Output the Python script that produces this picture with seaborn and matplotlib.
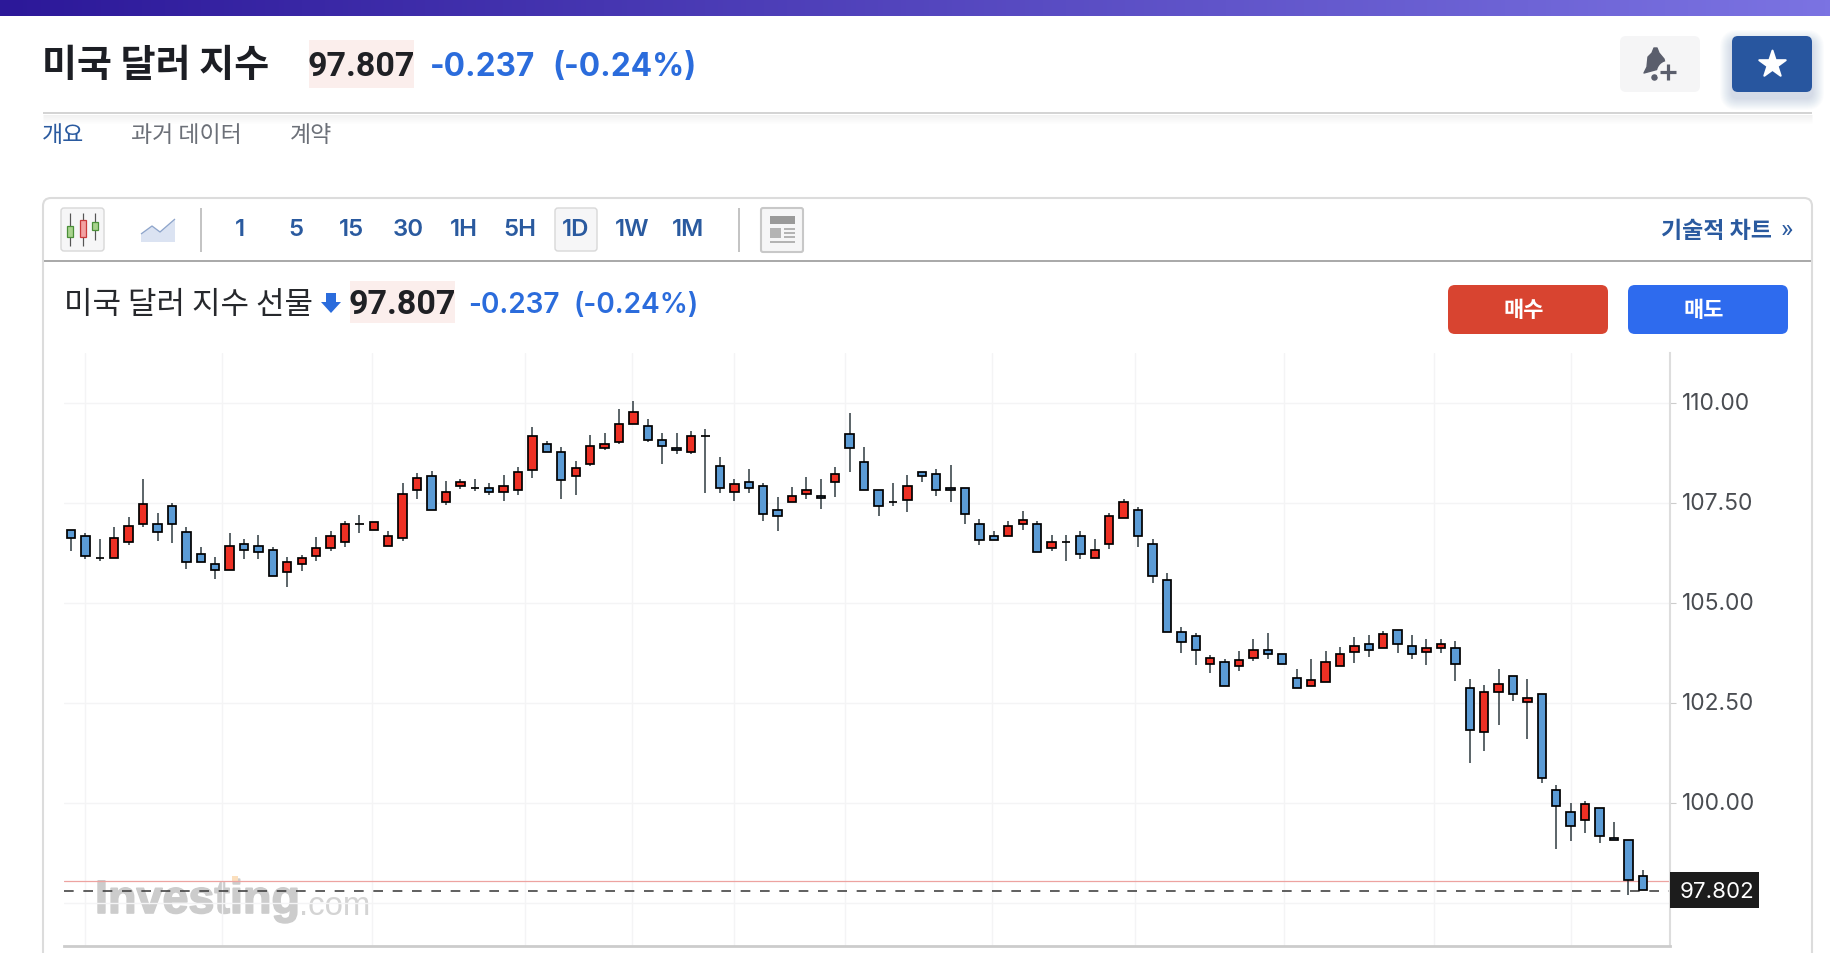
import numpy as np
import pandas as pd
import matplotlib.pyplot as plt
import matplotlib.patheffects as pe
from matplotlib.transforms import ScaledTranslation
import seaborn as sns
from matplotlib.patches import FancyBboxPatch, Rectangle, Polygon

#---------------------------------------------------------
f_out='out.png'
opens=[106.83,106.69,106.13,106.13,106.53,106.98,106.98,107.43,106.78,106.23,
	105.98,105.83,106.48,106.43,106.33,105.78,105.98,106.18,106.38,106.53,
	106.99,106.83,106.43,106.63,107.83,108.18,107.53,107.93,107.88,107.88,
	107.78,107.83,108.33,108.98,108.78,108.18,108.48,108.88,109.03,109.48,
	109.43,109.08,108.88,108.78,109.18,108.43,107.78,108.03,107.93,107.33,
	107.53,107.73,107.68,108.03,109.23,108.53,107.83,107.54,107.58,108.28,
	108.23,107.88,107.88,106.98,106.68,106.68,106.98,106.98,106.38,106.53,
	106.68,106.13,106.48,107.13,107.33,106.48,105.58,104.28,104.18,103.48,
	103.53,103.43,103.63,103.83,103.72,103.12,102.92,103.02,103.42,103.77,
	103.97,103.87,104.32,103.92,103.77,103.87,103.87,102.87,101.77,102.77,
	103.17,102.52,102.72,100.32,99.77,99.57,99.87,99.12,99.07,98.17]
closes=[106.63,106.18,106.13,106.63,106.93,107.48,106.78,106.98,106.03,106.03,
	105.83,106.43,106.33,106.28,105.68,106.03,106.13,106.38,106.68,106.98,
	106.99,107.03,106.68,107.73,108.13,107.33,107.78,108.03,107.88,107.78,
	107.93,108.28,109.18,108.78,108.08,108.38,108.93,108.98,109.48,109.78,
	109.08,108.93,108.83,109.18,109.18,107.88,107.98,107.88,107.23,107.18,
	107.68,107.83,107.63,108.23,108.88,107.83,107.43,107.54,107.93,108.18,
	107.83,107.83,107.23,106.58,106.58,106.93,107.08,106.28,106.53,106.53,
	106.23,106.33,107.18,107.53,106.68,105.68,104.28,104.03,103.83,103.63,
	102.93,103.58,103.83,103.73,103.47,102.87,103.07,103.52,103.72,103.92,
	103.82,104.22,103.97,103.72,103.87,103.97,103.47,101.82,102.77,102.97,
	102.72,102.62,100.62,99.92,99.42,99.97,99.17,99.08,98.07,97.82]
highs=[106.84,106.75,106.60,106.90,107.15,108.11,107.25,107.50,106.90,106.40,
	106.15,106.75,106.60,106.70,106.40,106.15,106.20,106.65,106.80,107.05,
	107.20,107.03,106.80,108.00,108.25,108.30,108.05,108.10,108.10,108.00,
	108.20,108.40,109.40,109.05,108.90,108.55,109.20,109.25,109.85,110.05,
	109.60,109.25,109.25,109.30,109.35,108.65,108.10,108.35,108.00,107.65,
	107.90,108.15,108.10,108.40,109.75,108.90,107.83,108.00,108.20,108.28,
	108.35,108.45,107.88,107.10,106.80,107.05,107.30,107.05,106.70,106.70,
	106.80,106.60,107.25,107.60,107.40,106.60,105.75,104.40,104.25,103.69,
	103.59,103.79,104.10,104.25,103.72,103.34,103.59,103.79,103.89,104.14,
	104.19,104.29,104.32,104.19,104.09,104.09,104.04,103.09,102.94,103.34,
	103.17,103.09,102.72,100.44,99.99,100.04,99.87,99.53,99.07,98.33]
lows=[106.31,106.11,106.06,106.13,106.46,106.91,106.56,106.51,105.86,106.03,
	105.61,105.83,106.11,106.11,105.68,105.41,105.81,106.06,106.31,106.41,
	106.76,106.83,106.43,106.56,107.61,107.33,107.46,107.86,107.81,107.71,
	107.56,107.71,108.12,108.78,107.61,107.71,108.42,108.82,108.97,109.48,
	109.02,108.47,108.72,108.72,107.76,107.76,107.56,107.76,107.06,106.81,
	107.53,107.61,107.36,107.66,108.27,107.83,107.17,107.42,107.27,108.02,
	107.67,107.52,106.97,106.46,106.58,106.68,106.82,106.28,106.31,106.06,
	106.11,106.13,106.36,107.13,106.41,105.51,104.28,103.76,103.46,103.26,
	102.93,103.31,103.56,103.61,103.47,102.87,102.92,103.02,103.42,103.51,
	103.66,103.87,103.76,103.61,103.46,103.76,103.06,101.00,101.30,101.95,
	102.56,101.60,100.50,98.85,99.05,99.25,99.00,99.08,97.70,97.82]
y_ticks=[97.5, 100, 102.5, 105, 107.5, 110]
y_labels=['', '100.00', '102.50', '105.00', '107.50', '110.00']
grid_days=[1, 10.5, 20.9, 31.5, 38.9, 46, 53.7, 63.9, 73.8, 84.1, 94.5, 104]
last_close=97.802
prev_level=98.04
tf_labels=['1', '5', '15', '30', '1H', '5H', '1D', '1W', '1M']

c_up='#ee3024'
c_down='#5b9bd5'
c_navy='#2a5a9f'
c_blue='#2b6cdc'
f_kr='Noto Sans CJK KR'
f_num='Inter'
f_price='Roboto'

#--------------------------------------------------------
sns.set_theme(style='white')
plt.rcParams['font.family']=[f_num, f_kr, 'DejaVu Sans']
W, H=1830, 954
fig=plt.figure(figsize=(W/100, H/100), dpi=100, facecolor='white')

#page furniture is laid out in pixels
ui=fig.add_axes([0, 0, 1, 1])
ui.axis('off')

def box(x0, y0, x1, y1, color, r=5, ec='none', lw=0, z=2, alpha=1):
	ui.add_patch(FancyBboxPatch((x0, y0), x1-x0, y1-y0, boxstyle=f'round,pad=0,rounding_size={r}', fc=color, ec=ec, lw=lw, zorder=z, alpha=alpha))

def shadow(x0, y0, x1, y1, color, r=5):
	for i in range(1, 13):
		box(x0-i, y0-i+6, x1+i, y1+i+6, color, r=r+i, z=1, alpha=0.016)

def txt(x, y, s, px, color, weight='normal', ha='left', family=None, z=5):
	fam=family if family else f_kr
	return ui.text(x, y, s, fontsize=px*0.72, color=color, weight=weight, ha=ha, va='center', family=fam, zorder=z)

def ln(xs, ys, color, lw=1, z=3, **kw):
	ui.plot(xs, ys, color=color, lw=lw*0.72, zorder=z, solid_capstyle='butt', **kw)

#top gradient
grad=np.linspace(0, 1, 400)[None, :, None]
rgb=np.array([0x2c, 0x18, 0x99])/255*(1-grad)+np.array([0x7b, 0x73, 0xe2])/255*grad
ui.imshow(rgb, extent=(0, W, 17, 0), aspect='auto', zorder=1)

#header
txt(42, 66, '미국 달러 지수', 38, '#1c1e24', weight='bold')
ui.add_patch(Rectangle((309, 41), 105, 48, fc='#fbeeec', ec='none', zorder=2))
txt(361, 67, '97.807', 34, '#1f2024', weight='bold', ha='center', family=f_price)
txt(430, 68, '-0.237', 31.5, c_blue, weight='bold', family=f_num)
txt(552, 68, '(-0.24%)', 31.7, c_blue, weight='bold', family=f_num)

#bell and star
box(1620, 37, 1700, 93, '#f5f5f6', r=6)
ui.add_patch(Polygon([(1654, 49), (1657, 49), (1659, 54), (1664, 60), (1666, 68), (1644, 74), (1647, 68), (1648, 58), (1652, 54)], fc='#5a5e6c', ec='#5a5e6c', lw=1, joinstyle='round', zorder=5))
ui.scatter([1668], [73], marker='o', s=280, color='#f5f5f6', zorder=6, lw=0)
ui.scatter([1654], [78], marker='o', s=22, color='#5a5e6c', zorder=5.5, lw=0)
ln([1660, 1676], [73, 73], '#5a5e6c', lw=3.2, z=7)
ln([1668, 1668], [65, 81], '#5a5e6c', lw=3.2, z=7)
shadow(1732, 37, 1812, 93, '#28569f', r=6)
box(1732, 37, 1812, 93, '#28569f', r=6)
ui.scatter([1772], [65], marker='*', s=400, color='white', edgecolor='white', zorder=5, lw=1.5)

#separator + tabs
for i in range(9):
	ln([43, 1812], [116+i, 116+i], '#000000', lw=1, z=1, alpha=0.018*(9-i)/3)
ln([43, 1812], [114, 114], '#d4d4d4', lw=2)
txt(42, 135, '개요', 23, c_navy)
txt(131, 135, '과거 데이터', 23, '#6c7078')
txt(290, 135, '계약', 23, '#6c7078')

#card
ui.add_patch(FancyBboxPatch((43, 199), 1769, 1000, boxstyle='round,pad=0,rounding_size=8', fc='white', ec='#dcdcdc', lw=1.5, zorder=1.5))
ln([44, 1811], [262, 262], '#aaaaaa', lw=2)

#toolbar icons
box(61, 209, 104, 252, '#f6f6f7', r=3, ec='#d8d8d8', lw=1)
for x, y0, y1 in [(70, 214, 247), (83, 214, 247), (95, 214, 241)]:
	ln([x, x], [y0, y1], '#555555', lw=1.2, z=4)
for x, y0, y1, fc, ec in [(70, 227, 238, '#a8d38d', '#4a8f38'), (83, 221, 238, '#f2a2a2', '#c93a3a'), (95, 223, 231, '#a8d38d', '#4a8f38')]:
	ui.add_patch(Rectangle((x-3, y0), 6, y1-y0, fc=fc, ec=ec, lw=0.9, zorder=5))
ui.add_patch(Polygon([(141, 235), (152, 227), (160, 233), (175, 220), (175, 243), (141, 243)], fc='#dbe3f2', ec='none', zorder=3))
ln([141, 152, 160, 175], [235, 227, 233, 220], '#8ea5cb', lw=1.3, z=4)
ln([201, 201], [209, 253], '#c4c4c4', lw=2)
ln([739, 739], [209, 253], '#c4c4c4', lw=2)
box(555, 209, 597, 252, '#f6f6f7', r=3, ec='#d8d8d8', lw=1)
for lab, x in zip(tf_labels, range(240, 700, 56)):
	txt(x, 230, lab, 24, c_navy, weight='semibold', ha='center', family=f_num)
box(761, 209, 803, 253, '#f6f6f7', r=2, ec='#c8c8c8', lw=1.5)
ui.add_patch(Rectangle((770, 217), 25, 8, fc='#9a9a9a', ec='none', zorder=4))
ui.add_patch(Rectangle((770, 229), 11, 10, fc='#b4b4b4', ec='none', zorder=4))
for y in [230, 234, 238]:
	ln([784, 795], [y, y], '#b4b4b4', lw=2, z=4)
ln([770, 795], [243, 243], '#b4b4b4', lw=2, z=4)
txt(1661, 231, '기술적 차트', 23, c_navy, weight='bold')
txt(1781, 230, '»', 26, c_navy, family=f_price)

#instrument line
txt(64, 306, '미국 달러 지수 선물', 31, '#26282c')
ui.add_patch(Polygon([(326, 294), (336, 294), (336, 303), (341, 303), (331, 314), (321, 303), (326, 303)], fc='#2b6cdc', ec='none', zorder=4))
ui.add_patch(Rectangle((350, 282), 105, 42, fc='#fbeeec', ec='none', zorder=2))
txt(402, 305, '97.807', 34, '#1f2024', weight='bold', ha='center', family=f_price)
txt(468, 306, '-0.237', 28, c_blue, weight='semibold', family=f_num)
txt(573, 306, '(-0.24%)', 28, c_blue, weight='semibold', family=f_num)

#buttons
shadow(1448, 286, 1608, 335, '#d84430', r=7)
box(1448, 286, 1608, 335, '#d84430', r=7)
txt(1524, 311, '매수', 22, 'white', weight='bold', ha='center')
shadow(1628, 286, 1788, 335, '#2e6bee', r=7)
box(1628, 286, 1788, 335, '#2e6bee', r=7)
txt(1704, 311, '매도', 22, 'white', weight='bold', ha='center')

#watermark
wm=txt(95, 902, 'Investing', 46.7, '#cccccc', weight='bold', family='Liberation Sans', z=2)
wm.set_path_effects([pe.withStroke(linewidth=1.2, foreground='#cccccc')])
txt(299, 907, '.com', 33, '#d4d4d4', family='Liberation Sans', z=2)
ui.add_patch(Rectangle((232, 877), 6, 6, fc='#fbdfbd', ec='none', zorder=2))
ui.set_xlim(0, W)
ui.set_ylim(H, 0)

#-------------------------------------------------------
#chart area, x in day numbers, y in price
x0, x1, y0, y1=64, 1670, 354, 946.7
ax=fig.add_axes([x0/W, 1-y1/H, (x1-x0)/W, (y1-y0)/H], facecolor='none', zorder=3)

days=np.arange(len(opens))
df=pd.DataFrame({'day':days, 'open':opens, 'high':highs, 'low':lows, 'close':closes})
df['base']=df[['open', 'close']].min(axis=1)
df['body']=(df['open']-df['close']).abs()

#wicks
wick=df.melt(id_vars='day', value_vars=['high', 'low'], value_name='price')
sns.lineplot(data=wick, x='day', y='price', units='day', estimator=None, color='#2f3a40', lw=1.1, ax=ax, legend=False, solid_capstyle='butt', zorder=2)

#bodies
for up, col in [(True, c_up), (False, c_down)]:
	d=df[(df['close']>=df['open'])==up]
	sns.barplot(data=d, x='day', y='body', bottom=d['base'].values, native_scale=True, orient='x', color=col, saturation=1, width=0.58, errorbar=None, edgecolor='black', linewidth=1.25, ax=ax, zorder=3)

#reference lines
sns.lineplot(x=[-0.5, 111], y=[prev_level, prev_level], color='#eda3a0', lw=0.9, ax=ax, zorder=1.5)
sns.lineplot(x=[-0.5, 111], y=[last_close, last_close], color='#444444', lw=1.2, ax=ax, zorder=1.6, linestyle=(0, (5.8, 5.8)))

ax.set_xlim((x0-71)/14.42, (x1-71)/14.42)
ax.set_ylim(110-(y1-404.3)/39.95, 110-(y0-404.3)/39.95)
ax.set_xticks(grid_days)
ax.set_yticks(y_ticks)
ax.set_xticklabels([])
ax.set_yticklabels(y_labels, fontsize=22.8*0.72, color='#4a4d52', family=f_num)
ax.set_xlabel('')
ax.set_ylabel('')
ax.yaxis.tick_right()
ax.tick_params(axis='y', which='major', length=4, width=0.8, color='#cccccc', pad=4.3, right=True, left=False)
ax.tick_params(axis='x', length=0)
ax.grid(True, color='#f4f4f5', lw=1)
ax.set_axisbelow(True)
for s in ['top', 'left']:
	ax.spines[s].set_visible(False)
ax.spines['bottom'].set_color('#cccccc')
ax.spines['bottom'].set_linewidth(2)
ax.spines['right'].set_color('#dddddd')
ax.spines['right'].set_linewidth(1.5)
#labels sit a little above their grid line
lift=ScaledTranslation(0, 2.5/100, fig.dpi_scale_trans)
for t in ax.get_yticklabels():
	t.set_transform(t.get_transform()+lift)

#last price flag over the axis
ax.add_patch(Rectangle((1669.5, 873), 89.5, 36, fc='#1c1c1c', ec='none', zorder=10, transform=ui.transData, clip_on=False))
ax.text(1717, 892, '97.802', fontsize=22.3*0.72, color='white', ha='center', va='center', family=f_num, zorder=11, transform=ui.transData, clip_on=False)

#save
plt.savefig(f_out, dpi=100)
plt.close()
